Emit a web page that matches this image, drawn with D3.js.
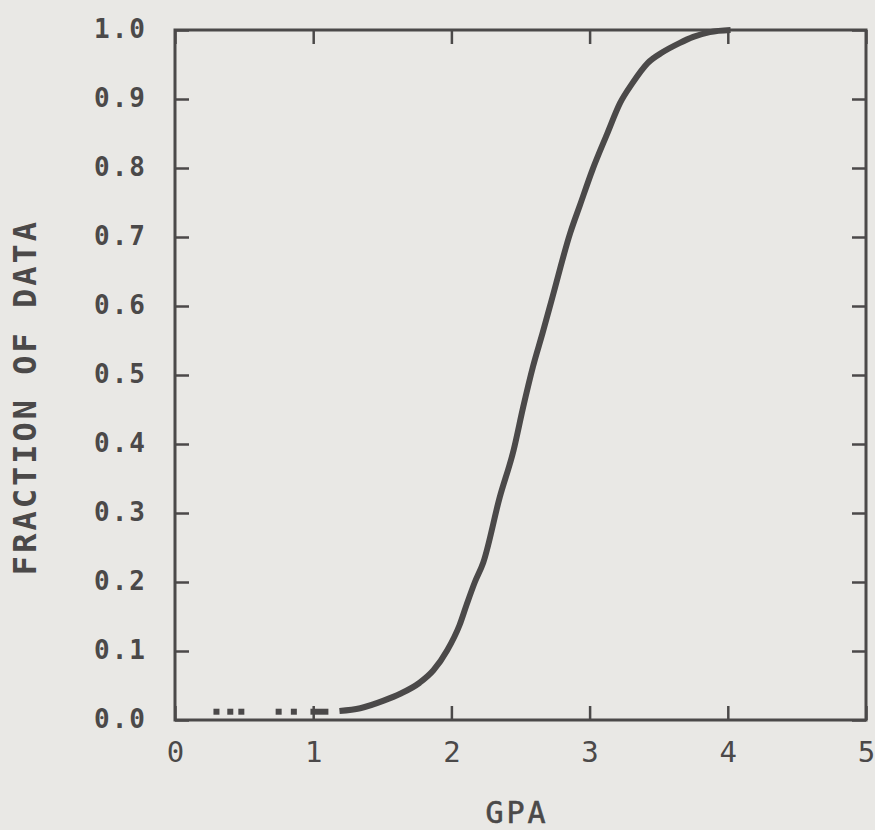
<!DOCTYPE html>
<html>
<head>
<meta charset="utf-8">
<script src="https://cdn.jsdelivr.net/npm/d3@7"></script>
<style>
  html, body { margin: 0; padding: 0; background: #e9e8e5; }
  svg { display: block; }
</style>
</head>
<body>
<svg id="chart" width="875" height="830"></svg>
<script>
// Cumulative fraction of students against GPA
var gpaValues = [1.19, 1.34, 1.51, 1.63, 1.77, 1.87, 1.97, 2.06, 2.11, 2.17, 2.23,
                 2.35, 2.45, 2.52, 2.59, 2.66, 2.73, 2.86, 2.93, 3.02, 3.13, 3.22,
                 3.31, 3.42, 3.53, 3.65, 3.75, 3.87, 4.02];
var fractionValues = [0.013, 0.017, 0.028, 0.038, 0.054, 0.072, 0.101, 0.138, 0.167, 0.200, 0.228,
                      0.323, 0.391, 0.454, 0.512, 0.561, 0.612, 0.706, 0.746, 0.797, 0.851, 0.894,
                      0.923, 0.952, 0.968, 0.981, 0.990, 0.997, 1.0];

// isolated low-GPA points and the short dash before the curve starts
var lowGpa = [0.30, 0.40, 0.48, 0.75, 0.86];
var lowFraction = 0.012;
var dashGpa = [0.98, 1.11];

var xTicks = [0, 1, 2, 3, 4, 5];
var yTicks = [0, 0.1, 0.2, 0.3, 0.4, 0.5, 0.6, 0.7, 0.8, 0.9, 1.0];

var ink = "#4b4949";
var svg = d3.select("#chart");

var x = d3.scaleLinear().domain([0, 5]).range([175, 866]);
var y = d3.scaleLinear().domain([0, 1]).range([720, 30]);

// Axes: ticks point inward on all four sides
function styleAxis(g) {
    g.select(".domain").remove();
    g.selectAll(".tick line").attr("stroke", ink).attr("stroke-width", 2.5);
    g.selectAll(".tick text")
        .attr("fill", ink)
        .style("font-family", "'DejaVu Sans Mono', monospace")
        .style("font-weight", "bold");
}

svg.append("g")
    .attr("transform", "translate(0,720)")
    .call(d3.axisBottom(x).tickValues(xTicks).tickSize(-14).tickPadding(21).tickFormat(d3.format("d")))
    .call(styleAxis)
    .selectAll(".tick text").style("font-size", "29px").style("font-weight", "normal");

svg.append("g")
    .attr("transform", "translate(0,30)")
    .call(d3.axisTop(x).tickValues(xTicks).tickSize(-14).tickFormat(""))
    .call(styleAxis);

svg.append("g")
    .attr("transform", "translate(175,0)")
    .call(d3.axisLeft(y).tickValues(yTicks).tickSize(-14).tickPadding(28).tickFormat(d3.format(".1f")))
    .call(styleAxis)
    .selectAll(".tick text").style("font-size", "26px").style("letter-spacing", "2px").attr("dy", "0.28em");

svg.append("g")
    .attr("transform", "translate(866,0)")
    .call(d3.axisRight(y).tickValues(yTicks).tickSize(-14).tickFormat(""))
    .call(styleAxis);

// Frame
svg.append("rect")
    .attr("x", x(0)).attr("y", y(1))
    .attr("width", x(5) - x(0)).attr("height", y(0) - y(1))
    .attr("fill", "none").attr("stroke", ink).attr("stroke-width", 3);

// Axis titles
svg.append("text")
    .attr("x", 517).attr("y", 823)
    .attr("text-anchor", "middle")
    .attr("fill", ink)
    .attr("stroke", ink).attr("stroke-width", 0.6)
    .style("font-family", "'DejaVu Sans Mono', monospace")
    .style("font-size", "30px")
    .style("letter-spacing", "3px")
    .text("GPA");

svg.append("text")
    .attr("transform", "translate(36,397) rotate(-90)")
    .attr("text-anchor", "middle")
    .attr("fill", ink)
    .style("font-family", "'DejaVu Sans Mono', monospace")
    .style("font-weight", "bold")
    .style("font-size", "32px")
    .style("letter-spacing", "3px")
    .text("FRACTION OF DATA");

// Low GPA dots
svg.selectAll("rect.dot")
    .data(lowGpa)
    .enter().append("rect")
    .attr("class", "dot")
    .attr("x", function(d) { return x(d) - 3; })
    .attr("y", y(lowFraction) - 3)
    .attr("width", 6).attr("height", 6)
    .attr("fill", ink);

svg.append("line")
    .attr("x1", x(dashGpa[0])).attr("x2", x(dashGpa[1]))
    .attr("y1", y(lowFraction)).attr("y2", y(lowFraction))
    .attr("stroke", ink).attr("stroke-width", 6);

// Cumulative curve
var points = gpaValues.map(function(g, i) { return [g, fractionValues[i]]; });
var line = d3.line()
    .x(function(d) { return x(d[0]); })
    .y(function(d) { return y(d[1]); })
    .curve(d3.curveMonotoneX);

svg.append("path")
    .datum(points)
    .attr("d", line)
    .attr("fill", "none")
    .attr("stroke", ink)
    .attr("stroke-width", 6);
</script>
</body>
</html>
